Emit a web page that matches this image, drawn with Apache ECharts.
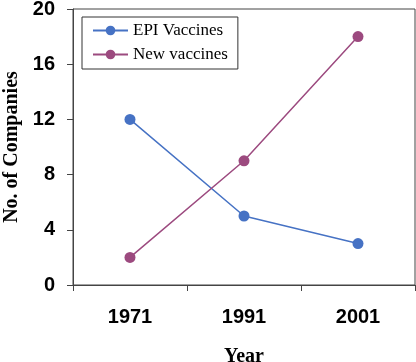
<!DOCTYPE html>
<html>
<head>
<meta charset="utf-8">
<script src="https://cdn.jsdelivr.net/npm/echarts@6/dist/echarts.min.js"></script>
<style>
  html, body { margin: 0; padding: 0; background: #fff; }
  #main { width: 416px; height: 362px; }
</style>
</head>
<body>
<div id="main"></div>
<script>
var years = ['1971', '1991', '2001'];
var epiVaccines = [12, 5, 3];
var newVaccines = [2, 9, 18];

var chart = echarts.init(document.getElementById('main'));
var option = {
  animation: false,
  grid: {
    left: 73, right: 1, top: 9, bottom: 77,
    outerBoundsMode: 'none',
    show: true, borderColor: '#444', borderWidth: 1, backgroundColor: '#fff'
  },
  legend: {
    left: 82, top: 17, orient: 'vertical',
    padding: [5, 10, 6, 10],
    borderColor: '#333', borderWidth: 1,
    itemWidth: 35, itemHeight: 12, itemGap: 7,
    textStyle: { fontFamily: 'Liberation Serif', fontSize: 17, color: '#000' },
    data: ['EPI Vaccines', 'New vaccines']
  },
  xAxis: {
    type: 'category',
    data: years,
    boundaryGap: true,
    name: 'Year',
    nameLocation: 'middle',
    nameGap: 62,
    nameTextStyle: { fontFamily: 'Liberation Serif', fontWeight: 'bold', fontSize: 20, color: '#000' },
    axisLine: { lineStyle: { color: '#444', width: 1 } },
    axisTick: { show: true, length: 6, lineStyle: { color: '#444' } },
    axisLabel: { fontFamily: 'Liberation Sans', fontWeight: 'bold', fontSize: 20, color: '#000', margin: 22 }
  },
  yAxis: {
    type: 'value',
    min: 0, max: 20, interval: 4,
    name: 'No. of Companies',
    nameLocation: 'middle',
    nameGap: 51,
    nameTextStyle: { fontFamily: 'Liberation Serif', fontWeight: 'bold', fontSize: 20, color: '#000' },
    splitLine: { show: false },
    axisLine: { show: true, lineStyle: { color: '#444', width: 1 } },
    axisTick: { show: true, length: 6, lineStyle: { color: '#444' } },
    axisLabel: { fontFamily: 'Liberation Sans', fontWeight: 'bold', fontSize: 20, color: '#000', margin: 18 }
  },
  series: [
    {
      name: 'EPI Vaccines', type: 'line', data: epiVaccines,
      symbol: 'circle', symbolSize: 11,
      itemStyle: { color: '#4672c4' },
      lineStyle: { color: '#4672c4', width: 1.5 }
    },
    {
      name: 'New vaccines', type: 'line', data: newVaccines,
      symbol: 'circle', symbolSize: 11,
      itemStyle: { color: '#9c4a7f' },
      lineStyle: { color: '#9c4a7f', width: 1.5 }
    }
  ]
};
chart.setOption(option);
</script>
</body>
</html>
